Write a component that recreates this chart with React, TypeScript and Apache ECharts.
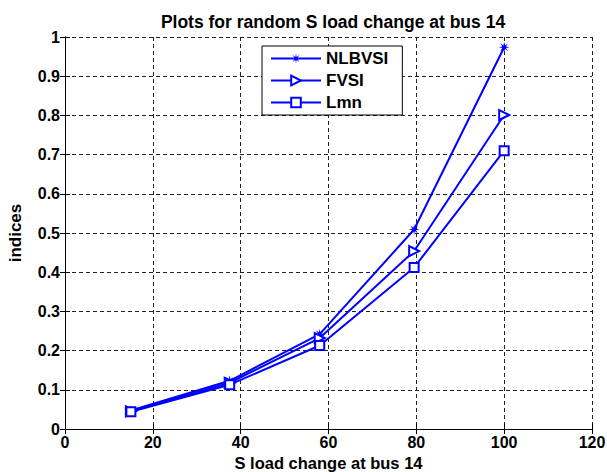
import React, { useEffect, useRef } from "react";
import * as echarts from "echarts";

// S load change at bus 14 (x values) and the three stability indices
const loadChange = [15, 37.5, 58, 79.5, 100];
const nlbvsi = [0.047, 0.123, 0.242, 0.509, 0.974];
const fvsi = [0.045, 0.118, 0.232, 0.454, 0.801];
const lmn = [0.044, 0.113, 0.213, 0.412, 0.71];

const seriesNames = ["NLBVSI", "FVSI", "Lmn"];

const FONT = "'Liberation Sans', Arial, Helvetica, sans-serif";
const BLUE = "#0000ff";

// asterisk-like marker
const STAR =
  "path://M0,-10 L1.34,-3.23 L7.07,-7.07 L3.23,-1.34 L10,0 L3.23,1.34 L7.07,7.07 L1.34,3.23 L0,10 L-1.34,3.23 L-7.07,7.07 L-3.23,1.34 L-10,0 L-3.23,-1.34 L-7.07,-7.07 L-1.34,-3.23 Z";

const pairs = (ys: number[]) => loadChange.map((x, i) => [x, ys[i]]);

export default function App() {
  const ref = useRef<HTMLDivElement>(null);

  useEffect(() => {
    document.body.style.margin = "0";
    const chart = echarts.init(ref.current!, null, { renderer: "svg" });

    const grid = {
      left: 65,
      right: 15,
      top: 37,
      bottom: 43,
      containLabel: false,
      outerBoundsMode: "none",
    };
    const gridLine = {
      show: true,
      lineStyle: { color: "#222", type: [4, 3] as any, width: 1 },
    };
    const tickLabel = {
      color: "#000",
      fontFamily: FONT,
      fontWeight: "bold" as const,
      fontSize: 16,
    };

    chart.setOption({
      animation: false,
      backgroundColor: "#fff",
      title: {
        text: "Plots for random S load change at bus 14",
        left: 328,
        top: 8,
        textAlign: "center",
        textStyle: {
          fontFamily: FONT,
          fontWeight: "bold",
          fontSize: 17.5,
          color: "#000",
        },
      },
      legend: {
        orient: "vertical",
        left: 262,
        top: 46,
        padding: [4, 14, 4, 8],
        itemWidth: 50,
        itemHeight: 12,
        itemGap: 5,
        borderColor: "#000",
        borderWidth: 1,
        backgroundColor: "#fff",
        data: seriesNames,
        textStyle: {
          fontFamily: FONT,
          fontWeight: "bold",
          fontSize: 17,
          color: "#000",
        },
      },
      grid,
      xAxis: [
        {
          type: "value",
          min: 0,
          max: 120,
          interval: 20,
          name: "S load change at bus 14",
          nameLocation: "middle",
          nameGap: 22,
          nameTextStyle: { ...tickLabel, fontSize: 16.5 },
          axisLine: { lineStyle: { color: "#000", width: 1 } },
          axisTick: { inside: true, length: 5, lineStyle: { color: "#000" } },
          axisLabel: { ...tickLabel, margin: 5 },
          splitLine: gridLine,
        },
        {
          type: "value",
          position: "top",
          min: 0,
          max: 120,
          interval: 20,
          axisLine: { lineStyle: { color: "#000", width: 1 } },
          axisTick: { inside: true, length: 5, lineStyle: { color: "#000" } },
          axisLabel: { show: false },
          splitLine: { show: false },
        },
      ],
      yAxis: [
        {
          type: "value",
          min: 0,
          max: 1,
          interval: 0.1,
          name: "indices",
          nameLocation: "middle",
          nameGap: 41,
          nameTextStyle: { ...tickLabel, fontSize: 17 },
          axisLine: { show: true, lineStyle: { color: "#000", width: 1 } },
          axisTick: {
            show: true,
            inside: true,
            length: 5,
            lineStyle: { color: "#000" },
          },
          axisLabel: {
            ...tickLabel,
            margin: 5,
            formatter: (v: number) => String(Math.round(v * 10) / 10),
          },
          splitLine: gridLine,
        },
        {
          type: "value",
          position: "right",
          min: 0,
          max: 1,
          interval: 0.1,
          axisLine: { show: true, lineStyle: { color: "#000", width: 1 } },
          axisTick: {
            show: true,
            inside: true,
            length: 5,
            lineStyle: { color: "#000" },
          },
          axisLabel: { show: false },
          splitLine: { show: false },
        },
      ],
      series: [
        {
          name: "NLBVSI",
          type: "line",
          data: pairs(nlbvsi),
          symbol: STAR,
          symbolSize: 11,
          showAllSymbol: true,
          lineStyle: { color: BLUE, width: 2 },
          itemStyle: { color: BLUE },
          z: 3,
        },
        {
          name: "FVSI",
          type: "line",
          data: pairs(fvsi),
          symbol: "emptyTriangle",
          symbolRotate: -90,
          symbolSize: 10,
          showAllSymbol: true,
          lineStyle: { color: BLUE, width: 2 },
          itemStyle: { color: BLUE, borderColor: BLUE, borderWidth: 2 },
          z: 3,
        },
        {
          name: "Lmn",
          type: "line",
          data: pairs(lmn),
          symbol: "emptyRect",
          symbolSize: 9,
          showAllSymbol: true,
          lineStyle: { color: BLUE, width: 2 },
          itemStyle: { color: BLUE, borderColor: BLUE, borderWidth: 2 },
          z: 3,
        },
      ],
    });

    return () => chart.dispose();
  }, []);

  return (
    <div
      ref={ref}
      style={{ position: "fixed", left: 0, top: 0, width: 607, height: 472 }}
    />
  );
}
